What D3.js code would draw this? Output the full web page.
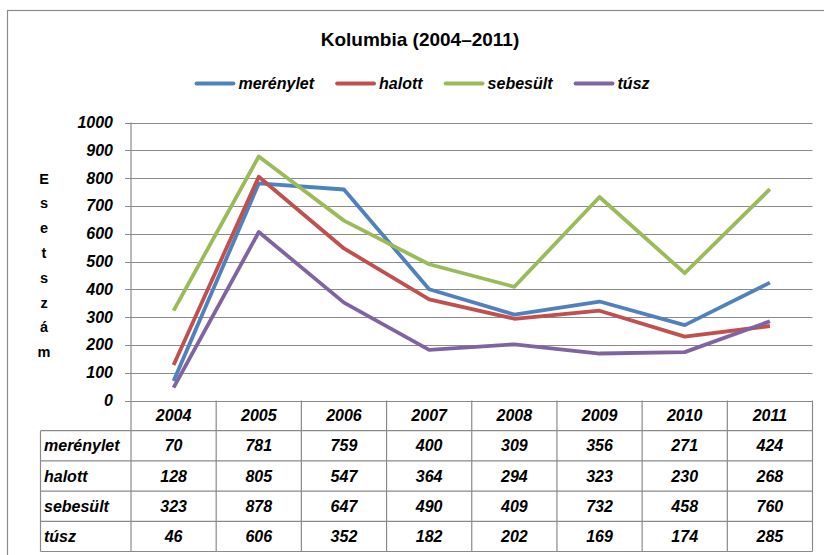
<!DOCTYPE html>
<html><head><meta charset="utf-8">
<script src="https://cdn.jsdelivr.net/npm/d3@7"></script>
<style>
html,body{margin:0;padding:0;background:#fff;}
svg{display:block;font-family:"Liberation Sans",Arial,sans-serif;}
</style></head>
<body><svg id="c" width="824" height="555"></svg>
<script>
const title = "Kolumbia (2004–2011)";
const years = ["2004","2005","2006","2007","2008","2009","2010","2011"];
const seriesNames = ["merénylet","halott","sebesült","túsz"];
const colors = ["#4F81BD","#C0504D","#9BBB59","#8064A2"];
const merenylet = [70,781,759,400,309,356,271,424];
const halott = [128,805,547,364,294,323,230,268];
const sebesult = [323,878,647,490,409,732,458,760];
const tusz = [46,606,352,182,202,169,174,285];
const yTicks = [0,100,200,300,400,500,600,700,800,900,1000];
const yTitle = "Esetszám";

const series = [merenylet, halott, sebesult, tusz].map((v,i)=>({name:seriesNames[i], color:colors[i], values:v}));

const svg = d3.select("#c");
const gridColor = "#8a8a8a";

// outer frame
svg.append("rect").attr("x",7.5).attr("y",10.5).attr("width",840).attr("height",600)
  .attr("fill","none").attr("stroke",gridColor).attr("stroke-width",1.2);

const x = d3.scaleBand().domain(years).range([131,812.5]).padding(0);
const y = d3.scaleLinear().domain([0,1000]).range([400.5,122.5]);

// title
svg.append("text").attr("x",420).attr("y",46).attr("text-anchor","middle")
  .attr("font-size",19).attr("font-weight","bold").attr("fill","#000").text(title);

// legend
const lg = svg.append("g");
let cx = 0;
series.forEach((s,i)=>{
  const g = lg.append("g").attr("transform",`translate(${cx},0)`);
  g.append("line").attr("x1",0).attr("x2",37).attr("y1",0).attr("y2",0)
    .attr("stroke",s.color).attr("stroke-width",3.8).attr("stroke-linecap","round");
  const t = g.append("text").attr("x",42).attr("y",5.5).attr("font-size",16)
    .attr("font-weight","bold").attr("font-style","italic").text(s.name);
  cx += 42 + t.node().getComputedTextLength() + 23;
});
const lw = cx - 23;
lg.attr("transform",`translate(${423 - lw/2},83.5)`);

// gridlines
svg.append("g").selectAll("line").data(yTicks).join("line")
  .attr("x1",125).attr("x2",812.5).attr("y1",d=>Math.round(y(d))+0.5).attr("y2",d=>Math.round(y(d))+0.5)
  .attr("stroke",gridColor).attr("stroke-width",1.2);
// y axis line
svg.append("line").attr("x1",131).attr("x2",131).attr("y1",y(1000)).attr("y2",y(0))
  .attr("stroke",gridColor).attr("stroke-width",1.2);
// tick labels
svg.append("g").selectAll("text").data(yTicks).join("text")
  .attr("x",113).attr("y",d=>y(d)+5.5).attr("text-anchor","end")
  .attr("font-size",16).attr("font-weight","bold").attr("font-style","italic").text(d=>d);

// y title stacked letters
svg.append("g").selectAll("text").data(Array.from(yTitle)).join("text")
  .attr("x",44).attr("y",(d,i)=>183.5 + i*24.8).attr("text-anchor","middle")
  .attr("font-size",14.5).attr("font-weight","bold").text(d=>d);

// lines
const line = d3.line().x((d,i)=>x(years[i])+x.bandwidth()/2).y(d=>y(d));
svg.append("g").selectAll("path").data(series).join("path")
  .attr("d",s=>line(s.values)).attr("fill","none").attr("stroke",s=>s.color)
  .attr("stroke-width",3.8).attr("stroke-linejoin","round");

// data table
const rowTop = 400.5, rowH = 30.2, tableLeft = 40.5, right = 812.5;
const nRows = series.length;
const tg = svg.append("g");
for(let r=1;r<=nRows+1;r++){
  const yy = rowTop + r*rowH;
  tg.append("line").attr("x1",tableLeft).attr("x2",right).attr("y1",yy).attr("y2",yy)
    .attr("stroke",gridColor).attr("stroke-width",1.2);
}
tg.append("line").attr("x1",tableLeft).attr("x2",tableLeft).attr("y1",rowTop+rowH).attr("y2",rowTop+(nRows+1)*rowH)
  .attr("stroke",gridColor).attr("stroke-width",1.2);
years.concat(["_end"]).forEach((yr,i)=>{
  const xx = i<years.length ? x(yr) : right;
  tg.append("line").attr("x1",xx).attr("x2",xx).attr("y1",rowTop).attr("y2",rowTop+(nRows+1)*rowH)
    .attr("stroke",gridColor).attr("stroke-width",1.2);
});
tg.selectAll("text.h").data(years).join("text").attr("class","h")
  .attr("x",d=>x(d)+x.bandwidth()/2).attr("y",rowTop+rowH/2+5.5).attr("text-anchor","middle")
  .attr("font-size",16).attr("font-weight","bold").attr("font-style","italic").text(d=>d);
series.forEach((s,r)=>{
  const yy = rowTop + (r+1)*rowH + rowH/2 + 5.5;
  tg.append("text").attr("x",44).attr("y",yy).attr("font-size",16).attr("font-weight","bold")
    .attr("font-style","italic").text(s.name);
  tg.append("g").selectAll("text").data(s.values).join("text")
    .attr("x",(d,i)=>x(years[i])+x.bandwidth()/2).attr("y",yy).attr("text-anchor","middle")
    .attr("font-size",16).attr("font-weight","bold").attr("font-style","italic").text(d=>d);
});
</script></body></html>
